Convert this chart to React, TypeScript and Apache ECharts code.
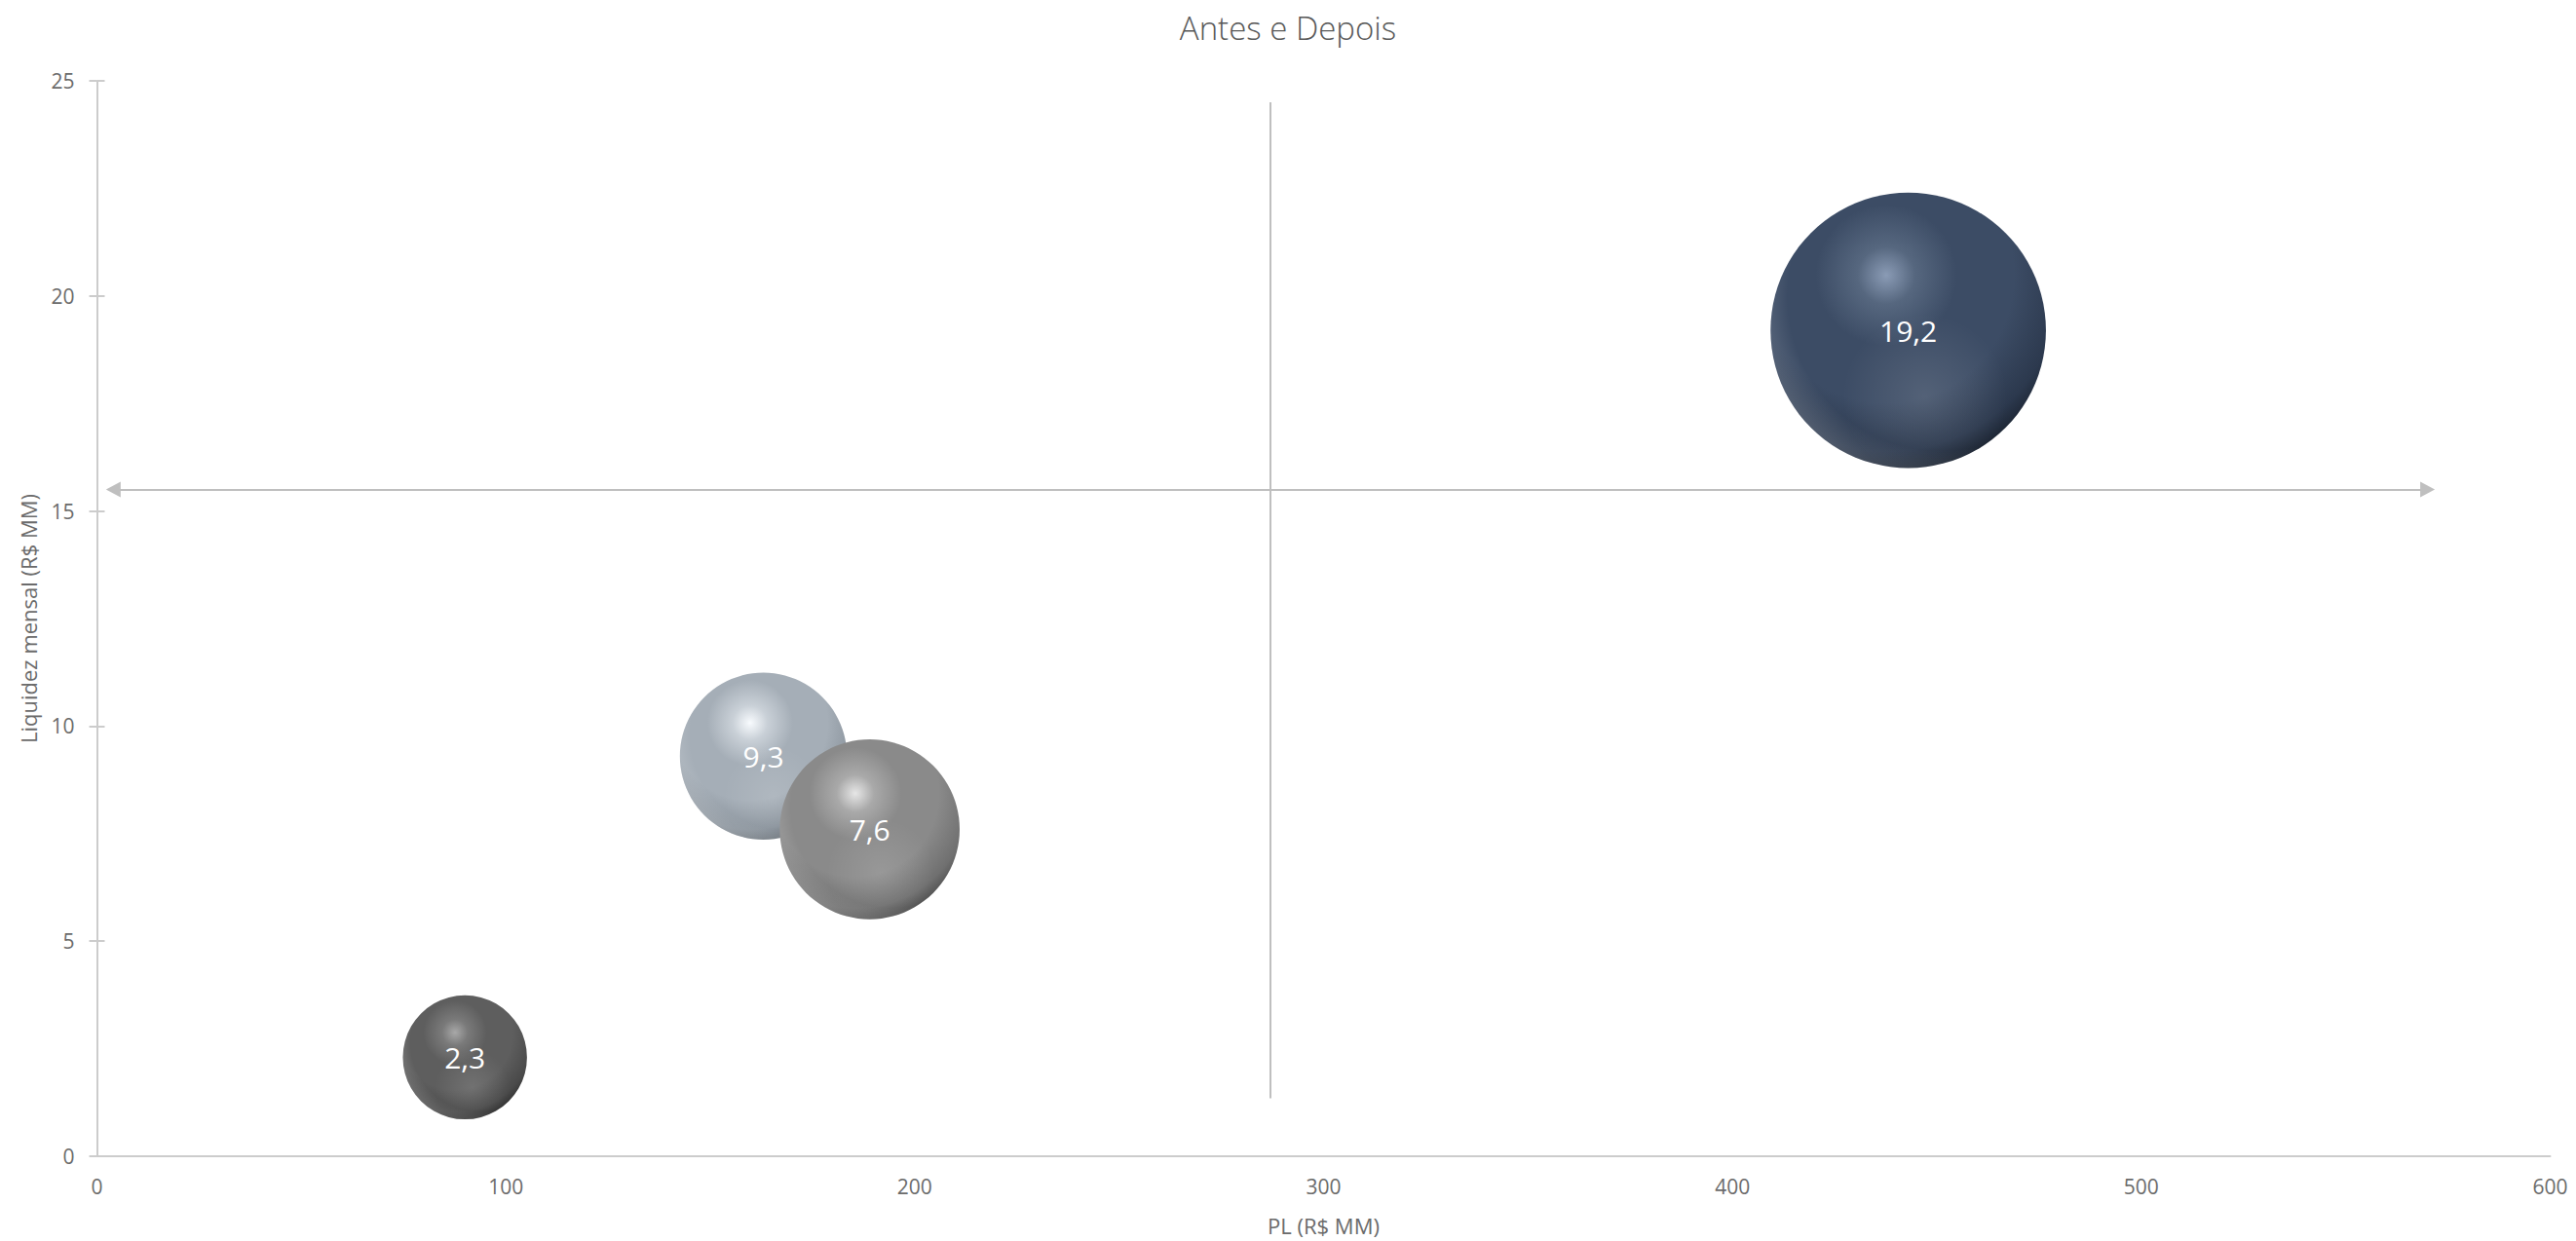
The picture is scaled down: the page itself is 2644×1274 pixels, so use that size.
import React, { useEffect, useRef } from "react";
import * as echarts from "echarts";

const TITLE = "Antes e Depois";
const X_NAME = "PL (R$ MM)";
const Y_NAME = "Liquidez mensal (R$ MM)";

// PL (R$ MM) — also sets bubble area — and monthly liquidity (R$ MM)
const plValues = [90, 163, 189, 443];
const liquidezValues = [2.3, 9.3, 7.6, 19.2];

const xRange = [0, 600];
const xStep = 100;
const yRange = [0, 25];
const yStep = 5;

// quadrant dividers, in data units
const hDividerY = 15.5;
const hDividerSpan = [4, 570];
const vDividerX = 287;
const vDividerSpan = [1.35, 24.5];

const FONT = "'Open Sans', 'Noto Sans', sans-serif";
const AXIS_GREY = "#cccccc";
const TEXT_GREY = "#6b6b6b";

// largest bubble diameter as a share of the plot height
const BUBBLE_FRACTION = 0.256;

// sphere shading per bubble: highlight, glow, body, shadow, edge
const sphereShades = [
  { hi: "#a8a8a8", glow: "#7a7a7a", body: "#5e5e5e", mid: "#4a4a4a", edge: "#1a1a1a" },
  { hi: "#f8fbfe", glow: "#c9d0d7", body: "#a5aeb7", mid: "#8a939c", edge: "#4a5056" },
  { hi: "#e6e6e6", glow: "#a9a9a9", body: "#8a8a8a", mid: "#707070", edge: "#303030" },
  { hi: "#8a9bb5", glow: "#56677f", body: "#3c4c65", mid: "#2c394e", edge: "#0a0e14" },
];

const fmt = (v: number) => v.toFixed(1).replace(".", ",");

export default function App() {
  const ref = useRef<HTMLDivElement>(null);

  useEffect(() => {
    document.body.style.margin = "0";
    document.body.style.overflow = "hidden";
    if (!ref.current) return;
    const chart = echarts.init(ref.current, undefined, { renderer: "svg" });

    const maxPl = Math.max(...plValues);
    const points = plValues.map((x, i) => [x, liquidezValues[i]]);

    const axisName = { fontFamily: FONT, fontSize: 22, color: TEXT_GREY };
    const axisLabel = { fontFamily: FONT, fontSize: 21, color: TEXT_GREY };
    const lineStyle = { color: AXIS_GREY, width: 2 };

    const option = {
      animation: false,
      backgroundColor: "#ffffff",
      title: {
        text: TITLE,
        left: "center",
        top: 7,
        textStyle: { fontFamily: FONT, fontSize: 33, fontWeight: 300, color: "#595959" },
      },
      grid: { left: 99.5, right: 26.5, top: 83, bottom: 87 },
      xAxis: {
        type: "value",
        min: xRange[0],
        max: xRange[1],
        interval: xStep,
        name: X_NAME,
        nameLocation: "middle",
        nameGap: 60,
        nameTextStyle: axisName,
        axisLine: { show: true, onZero: false, lineStyle },
        axisTick: { show: false },
        splitLine: { show: false },
        axisLabel: { ...axisLabel, margin: 20 },
      },
      yAxis: [
        {
          type: "value",
          min: yRange[0],
          max: yRange[1],
          interval: yStep,
          name: Y_NAME,
          nameLocation: "middle",
          nameGap: 60,
          nameTextStyle: axisName,
          axisLine: { show: true, onZero: false, lineStyle },
          axisTick: { show: true, length: 8, lineStyle },
          splitLine: { show: false },
          axisLabel: { ...axisLabel, margin: 23 },
        },
        {
          // inner half of the cross tick marks
          type: "value",
          position: "left",
          min: yRange[0],
          max: yRange[1],
          interval: yStep,
          axisLine: { show: false },
          axisTick: { show: true, inside: true, length: 8, lineStyle },
          splitLine: { show: false },
          axisLabel: { show: false },
        },
      ],
      series: [
        {
          type: "line",
          data: [],
          silent: true,
          markLine: {
            silent: true,
            animation: false,
            label: { show: false },
            lineStyle: { color: "#bfbfbf", width: 2, type: "solid" },
            data: [
              [
                { coord: [hDividerSpan[0], hDividerY], symbol: "triangle", symbolSize: [16, 15] },
                { coord: [hDividerSpan[1], hDividerY], symbol: "triangle", symbolSize: [16, 15] },
              ],
              [
                { coord: [vDividerX, vDividerSpan[0]], symbol: "none" },
                { coord: [vDividerX, vDividerSpan[1]], symbol: "none" },
              ],
            ],
          },
        },
        {
          type: "custom",
          data: points,
          encode: { x: 0, y: 1 },
          renderItem: (params: any, api: any) => {
            const x = api.value(0);
            const y = api.value(1);
            const [cx, cy] = api.coord([x, y]);
            const plotH = api.coord([0, yRange[0]])[1] - api.coord([0, yRange[1]])[1];
            const r = 0.5 * BUBBLE_FRACTION * plotH * Math.sqrt(x / maxPl);
            const s = sphereShades[params.dataIndex];
            return {
              type: "group",
              children: [
                {
                  type: "circle",
                  shape: { cx, cy, r },
                  style: {
                    fill: new echarts.graphic.RadialGradient(0.42, 0.3, 0.8, [
                      { offset: 0, color: s.hi },
                      { offset: 0.13, color: s.glow },
                      { offset: 0.32, color: s.body },
                      { offset: 0.58, color: s.body },
                      { offset: 0.8, color: s.mid },
                      { offset: 1, color: s.edge },
                    ]),
                  },
                },
                {
                  // soft reflected light on the lower half
                  type: "circle",
                  shape: { cx, cy, r },
                  style: {
                    fill: new echarts.graphic.RadialGradient(0.56, 0.74, 0.3, [
                      { offset: 0, color: "rgba(255,255,255,0.12)" },
                      { offset: 1, color: "rgba(255,255,255,0)" },
                    ]),
                  },
                },
                {
                  // rim light on the lower-left edge
                  type: "circle",
                  shape: { cx, cy, r },
                  style: {
                    fill: new echarts.graphic.RadialGradient(0.62, 0.38, 0.68, [
                      { offset: 0, color: "rgba(255,255,255,0)" },
                      { offset: 0.82, color: "rgba(255,255,255,0)" },
                      { offset: 1, color: "rgba(255,255,255,0.18)" },
                    ]),
                  },
                },
                {
                  type: "text",
                  style: {
                    text: fmt(y),
                    x: cx,
                    y: cy,
                    align: "center",
                    verticalAlign: "middle",
                    fill: "#ffffff",
                    fontSize: 30,
                    fontFamily: FONT,
                  },
                },
              ],
            };
          },
        },
      ],
    };

    chart.setOption(option as any);
    return () => chart.dispose();
  }, []);

  return <div ref={ref} style={{ width: 2644, height: 1274 }} />;
}
